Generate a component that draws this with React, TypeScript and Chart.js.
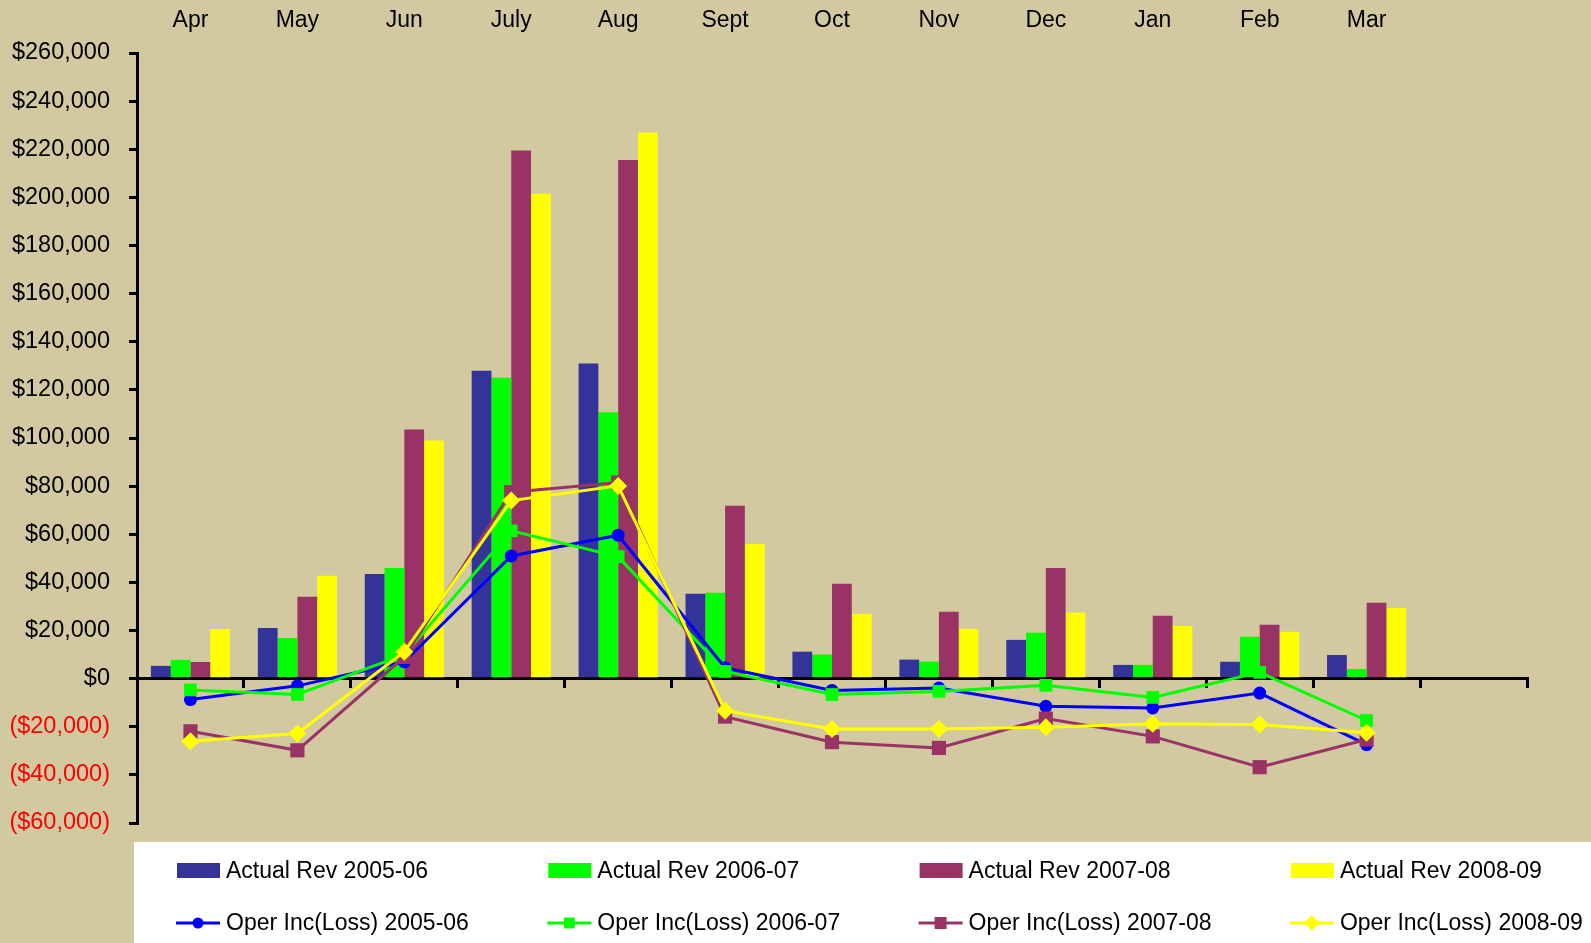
import React, { useEffect, useRef } from 'react';
import { Chart, registerables } from 'chart.js';

Chart.register(...registerables);

const FONT = '"Liberation Sans", Arial, sans-serif';
const BG = '#D2C9A0';

const months = ['Apr', 'May', 'Jun', 'July', 'Aug', 'Sept', 'Oct', 'Nov', 'Dec', 'Jan', 'Feb', 'Mar', ''];

const rev0506 = [5300, 21000, 43500, 128000, 131000, 35300, 11200, 7900, 16100, 5700, 7000, 9800, null];
const rev0607 = [7800, 16900, 46000, 125000, 110700, 35700, 10000, 7100, 19100, 5700, 17400, 4000, null];
const rev0708 = [6900, 34000, 103500, 219500, 215500, 71800, 39400, 27800, 46000, 26100, 22400, 31500, null];
const rev0809 = [20600, 42800, 99000, 201500, 227000, 56000, 27000, 20700, 27500, 21900, 19500, 29300, null];

const inc0506 = [-8700, -3000, 7000, 51000, 59600, 4500, -4900, -3900, -11500, -12200, -6000, -27400, null];
const inc0607 = [-4700, -6600, 10000, 61400, 50700, 3000, -6600, -5300, -2800, -7800, 2600, -17400, null];
const inc0708 = [-21900, -29800, 9000, 77500, 81500, -15800, -26400, -28800, -16600, -24000, -36800, -25300, null];
const inc0809 = [-26000, -22800, 11200, 74000, 80100, -13300, -20900, -20900, -20200, -18800, -19100, -22500, null];

const barLabels = ['Actual Rev 2005-06', 'Actual Rev 2006-07', 'Actual Rev 2007-08', 'Actual Rev 2008-09'];
const lineLabels = ['Oper Inc(Loss) 2005-06', 'Oper Inc(Loss) 2006-07', 'Oper Inc(Loss) 2007-08', 'Oper Inc(Loss) 2008-09'];
const barColors = ['#333399', '#00FF00', '#993366', '#FFFF00'];
const lineColors = ['#0000FF', '#00FF00', '#993366', '#FFFF00'];
const yTicks = { min: -60000, max: 260000, step: 20000 };

function fmtMoney(v: number): string {
  if (v === 0) return '$0';
  const s = '$' + Math.abs(v).toLocaleString('en-US');
  return v < 0 ? '(' + s + ')' : s;
}

function drawMarker(ctx: CanvasRenderingContext2D, style: string, x: number, y: number, r: number, color: string) {
  ctx.fillStyle = color;
  ctx.beginPath();
  if (style === 'circle') {
    ctx.arc(x, y, r, 0, Math.PI * 2);
  } else if (style === 'rect') {
    const h = r * Math.SQRT1_2;
    ctx.rect(x - h, y - h, 2 * h, 2 * h);
  } else {
    ctx.moveTo(x - r, y);
    ctx.lineTo(x, y - r);
    ctx.lineTo(x + r, y);
    ctx.lineTo(x, y + r);
    ctx.closePath();
  }
  ctx.fill();
}

const boxLegend = {
  id: 'boxLegend',
  afterDraw(chart: any) {
    const { ctx, chartArea } = chart;
    const top = chartArea.bottom + 19;
    const left = chartArea.left - 3;
    ctx.save();
    ctx.fillStyle = '#FFFFFF';
    ctx.fillRect(left, top, chart.width - left, chart.height - top);
    ctx.font = '23px ' + FONT;
    ctx.textBaseline = 'middle';
    ctx.textAlign = 'left';
    const ds = chart.data.datasets;
    ds.forEach((d: any, i: number) => {
      const col = i % 4;
      const row = Math.floor(i / 4);
      const x0 = chartArea.left + 40 + col * 371.3;
      const yc = top + (row === 0 ? 28.5 : 81);
      if (d.type === 'line') {
        ctx.strokeStyle = d.borderColor;
        ctx.lineWidth = 3;
        ctx.beginPath();
        ctx.moveTo(x0 - 1, yc);
        ctx.lineTo(x0 + 43, yc);
        ctx.stroke();
        drawMarker(ctx, d.pointStyle, x0 + 21, yc, d.pointRadius * 0.85, d.borderColor);
      } else {
        ctx.fillStyle = d.backgroundColor;
        ctx.fillRect(x0, yc - 7.5, 43, 15);
      }
      ctx.fillStyle = '#000000';
      ctx.fillText(d.label, x0 + 49, yc + 1);
    });
    ctx.restore();
  },
};

export default function App() {
  const ref = useRef<HTMLCanvasElement>(null);

  useEffect(() => {
    const revs = [rev0506, rev0607, rev0708, rev0809];
    const incs = [inc0506, inc0607, inc0708, inc0809];
    const styles = ['circle', 'rect', 'rect', 'rectRot'];
    const radii = [6.5, 9, 10, 9];
    const datasets: any[] = [];
    revs.forEach((data, i) => {
      datasets.push({
        type: 'bar',
        label: barLabels[i],
        data,
        backgroundColor: barColors[i],
        borderWidth: 0,
        categoryPercentage: 0.74,
        barPercentage: 1,
        order: 10,
      });
    });
    incs.forEach((data, i) => {
      datasets.push({
        type: 'line',
        label: lineLabels[i],
        data,
        borderColor: lineColors[i],
        backgroundColor: lineColors[i],
        borderWidth: 3,
        pointStyle: styles[i],
        pointRadius: radii[i],
        pointBorderWidth: 0,
        pointBackgroundColor: lineColors[i],
        pointBorderColor: lineColors[i],
        tension: 0,
        fill: false,
        order: 4 - i,
      });
    });

    const chart = new Chart(ref.current as HTMLCanvasElement, {
      type: 'bar',
      data: { labels: months, datasets },
      options: {
        responsive: false,
        animation: false,
        layout: { padding: { left: 0, right: 64, top: 0, bottom: 120 } },
        plugins: { legend: { display: false }, tooltip: { enabled: false } },
        scales: {
          x: {
            position: 'top',
            offset: true,
            grid: { display: false, drawTicks: false },
            border: { display: false },
            ticks: {
              color: '#000000',
              font: { family: FONT, size: 23 },
              padding: 19,
              maxRotation: 0,
              autoSkip: false,
            },
            afterFit: (s: any) => {
              s.height = 53;
            },
          },
          x2: {
            type: 'category',
            position: { y: 0 },
            offset: true,
            grid: {
              offset: true,
              drawOnChartArea: false,
              drawTicks: true,
              tickLength: 8,
              color: '#000000',
              lineWidth: 3,
            },
            border: { display: true, color: '#000000', width: 3 },
            ticks: { display: false },
          },
          y: {
            min: yTicks.min,
            max: yTicks.max,
            ticks: {
              stepSize: yTicks.step,
              callback: (v: any) => fmtMoney(Number(v)),
              color: (c: any) => (c.tick && c.tick.value < 0 ? '#FF0000' : '#000000'),
              font: { family: FONT, size: 23.5 },
              padding: 19,
            },
            grid: {
              drawOnChartArea: false,
              drawTicks: true,
              tickLength: 8,
              color: '#000000',
              lineWidth: 3,
            },
            border: { display: true, color: '#000000', width: 3 },
            afterFit: (s: any) => {
              s.width = 137;
            },
          },
        } as any,
      },
      plugins: [boxLegend],
    });
    return () => chart.destroy();
  }, []);

  return (
    <div style={{ position: 'absolute', left: 0, top: 0, width: 1591, height: 943, background: BG }}>
      <canvas ref={ref} width={1591} height={943} style={{ display: 'block' }} />
    </div>
  );
}
